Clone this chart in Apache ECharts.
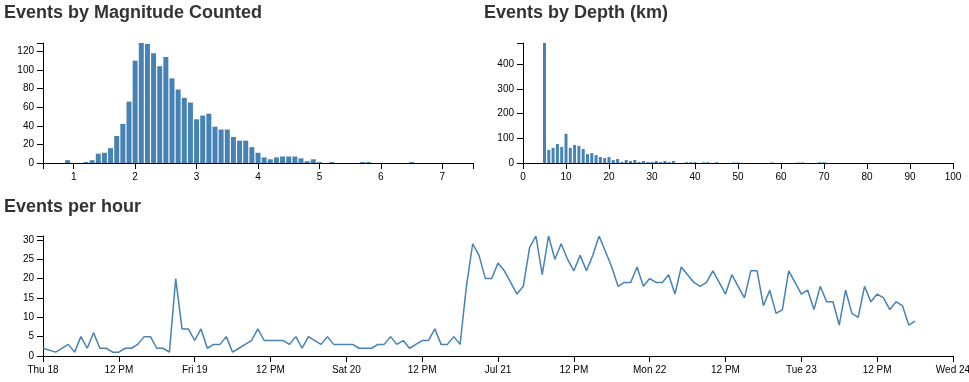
<!DOCTYPE html>
<html>
<head>
<meta charset="utf-8">
<script src="https://cdn.jsdelivr.net/npm/echarts@6/dist/echarts.min.js"></script>
<style>
html,body{margin:0;padding:0;background:#fff;}
#chart{width:969px;height:382px;}
</style>
</head>
<body>
<div id="chart"></div>
<script>
// ---- Data ----
const titles = ['Events by Magnitude Counted', 'Events by Depth (km)', 'Events per hour'];

const magBins   = [0.9, 1.2, 1.3, 1.4, 1.5, 1.6, 1.7, 1.8, 1.9, 2.0, 2.1, 2.2, 2.3, 2.4, 2.5, 2.6, 2.7, 2.8, 2.9, 3.0, 3.1, 3.2, 3.3, 3.4, 3.5, 3.6, 3.7, 3.8, 3.9, 4.0, 4.1, 4.2, 4.3, 4.4, 4.5, 4.6, 4.7, 4.8, 4.9, 5.0, 5.2, 5.7, 5.8, 6.5];
const magCounts = [3,   1,   3,   10,  11,  16,  29,  42,  66,  110, 129, 128, 118, 104, 114, 91,  79,  70,  65,  47,  51,  53,  39,  36,  36,  28,  24,  24,  17,  11,  6,   4,   6,   7,   7,   7,   5,   2,   4,   1,   1,   1,   1,   1];
const magTickLabels = [1, 2, 3, 4, 5, 6, 7];
const magCountTicks = [0, 20, 40, 60, 80, 100, 120];

const depthBins   = [5,   6,  7,  8,  9,  10,  11, 12, 13, 14, 15, 16, 17, 18, 19, 20, 21, 22, 23, 24, 25, 26, 27, 28, 29, 30, 31, 32, 33, 34, 35, 38, 39, 40, 42, 43, 45, 49, 50, 58, 64, 65, 69, 70];
const depthCounts = [485, 53, 61, 77, 65, 118, 61, 73, 69, 57, 36, 40, 32, 24, 20, 24, 12, 16, 4,  12, 8,  12, 4,  8,  4,  4,  8,  4,  8,  4,  8,  3,  3,  3,  3,  3,  3,  2,  2,  2,  2,  2,  3,  3];
const depthTickLabels = [0, 10, 20, 30, 40, 50, 60, 70, 80, 90, 100];
const depthCountTicks = [0, 100, 200, 300, 400];

// hours since Thu 18 00:00 (hours with no events are absent)
const hours = [0, 2, 4, 5, 6, 7, 8, 9, 10, 11, 12, 13, 14, 15, 16, 17, 18, 19, 20, 21, 22, 23, 24, 25, 26, 27, 28, 29, 30, 31, 32, 33, 34, 35, 36, 37, 38, 39, 40, 41, 42, 43, 44, 45, 46, 47, 48, 49, 50, 51, 52, 53, 54, 55, 56, 57, 58, 59, 60, 61, 62, 63, 64, 65, 66, 67, 68, 69, 70, 71, 72, 73, 74, 75, 76, 77, 78, 79, 80, 81, 82, 83, 84, 85, 86, 87, 88, 89, 90, 91, 92, 93, 94, 95, 96, 97, 98, 99, 100, 101, 102, 103, 104, 105, 106, 107, 108, 109, 110, 111, 112, 113, 114, 115, 116, 117, 118, 119, 120, 121, 122, 123, 124, 125, 126, 127, 128, 129, 130, 131, 132, 133, 134, 135, 136, 137, 138];
const hourCounts = [2, 1, 3, 1, 5, 2, 6, 2, 2, 1, 1, 2, 2, 3, 5, 5, 2, 2, 1, 20, 7, 7, 4, 7, 2, 3, 3, 5, 1, 2, 3, 4, 7, 4, 4, 4, 4, 3, 5, 2, 5, 4, 3, 5, 3, 3, 3, 3, 2, 2, 2, 3, 3, 5, 3, 4, 2, 3, 4, 4, 7, 3, 3, 5, 3, 18, 29, 26, 20, 20, 24, 22, 19, 16, 18, 28, 31, 21, 31, 25, 29, 25, 22, 26, 22, 26, 31, 27, 23, 18, 19, 19, 23, 18, 20, 19, 19, 21, 16, 23, 21, 19, 18, 19, 22, 19, 16, 21, 18, 15, 22, 22, 13, 17, 11, 12, 22, 19, 16, 17, 12, 18, 14, 14, 8, 17, 11, 10, 18, 14, 16, 15, 12, 14, 13, 8, 9];
const timeLabels = ['Thu 18', '12 PM', 'Fri 19', '12 PM', 'Sat 20', '12 PM', 'Jul 21', '12 PM', 'Mon 22', '12 PM', 'Tue 23', '12 PM', 'Wed 24'];
const hourCountTicks = [0, 5, 10, 15, 20, 25, 30];

// ---- Chart ----
const FONT = '"Liberation Sans", Arial, Helvetica, sans-serif';
const COLOR = '#4682b4';
const chart = echarts.init(document.getElementById('chart'), null, {renderer: 'canvas'});

const magMax = Math.max(...magCounts);
const depthMax = Math.max(...depthCounts);
const hourMax = Math.max(...hourCounts);

function axisBase() {
  return {
    axisLine: {show: true, lineStyle: {color: '#000', width: 1}},
    axisTick: {show: true, inside: false, length: 6, lineStyle: {color: '#000', width: 1}},
    axisLabel: {show: true, color: '#000', fontSize: 10, fontFamily: FONT, margin: 9, showMinLabel: true, showMaxLabel: true},
    splitLine: {show: false}
  };
}
function xAxisDef(grid, min, max, labelVals, tickVals, fmt) {
  const a = axisBase();
  a.type = 'value'; a.gridIndex = grid; a.min = min; a.max = max;
  a.axisLabel.customValues = labelVals;
  a.axisTick.customValues = tickVals;
  if (fmt) a.axisLabel.formatter = fmt;
  return a;
}
function yAxisDef(grid, max, labelVals) {
  const a = axisBase();
  a.type = 'value'; a.gridIndex = grid; a.min = 0; a.max = max;
  a.axisLabel.customValues = labelVals;
  a.axisTick.customValues = labelVals.concat([max]);
  return a;
}

const titleStyle = {fontSize: 18, fontWeight: 'bold', color: '#333', fontFamily: FONT};

chart.setOption({
  animation: false,
  backgroundColor: '#fff',
  title: [
    {text: titles[0], left: 4, top: 4, padding: 0, textStyle: titleStyle},
    {text: titles[1], left: 484, top: 4, padding: 0, textStyle: titleStyle},
    {text: titles[2], left: 4, top: 198, padding: 0, textStyle: titleStyle}
  ],
  grid: [
    {left: 43, top: 43, width: 430, height: 120, containLabel: false, outerBoundsMode: 'none'},
    {left: 523, top: 43, width: 430, height: 120, containLabel: false, outerBoundsMode: 'none'},
    {left: 43, top: 236, width: 910, height: 120, containLabel: false, outerBoundsMode: 'none'}
  ],
  xAxis: [
    xAxisDef(0, 0.5, 7.5, magTickLabels, [0.5].concat(magTickLabels, [7.5])),
    xAxisDef(1, 0, 100, depthTickLabels, depthTickLabels),
    xAxisDef(2, 0, 144, timeLabels.map((_, i) => i * 12), timeLabels.map((_, i) => i * 12),
      v => timeLabels[Math.round(v / 12)] || '')
  ],
  yAxis: [
    yAxisDef(0, magMax, magCountTicks),
    yAxisDef(1, depthMax, depthCountTicks),
    yAxisDef(2, hourMax, hourCountTicks)
  ],
  series: [
    {type: 'bar', xAxisIndex: 0, yAxisIndex: 0, barWidth: 5,
     itemStyle: {color: COLOR}, data: magBins.map((m, i) => [m, magCounts[i]])},
    {type: 'bar', xAxisIndex: 1, yAxisIndex: 1, barWidth: 3,
     itemStyle: {color: COLOR}, data: depthBins.map((d, i) => [d, depthCounts[i]])},
    {type: 'line', xAxisIndex: 2, yAxisIndex: 2, showSymbol: false, symbol: 'none',
     lineStyle: {color: COLOR, width: 1.5}, itemStyle: {color: COLOR},
     data: hours.map((h, i) => [h, hourCounts[i]])}
  ]
});
</script>
</body>
</html>
